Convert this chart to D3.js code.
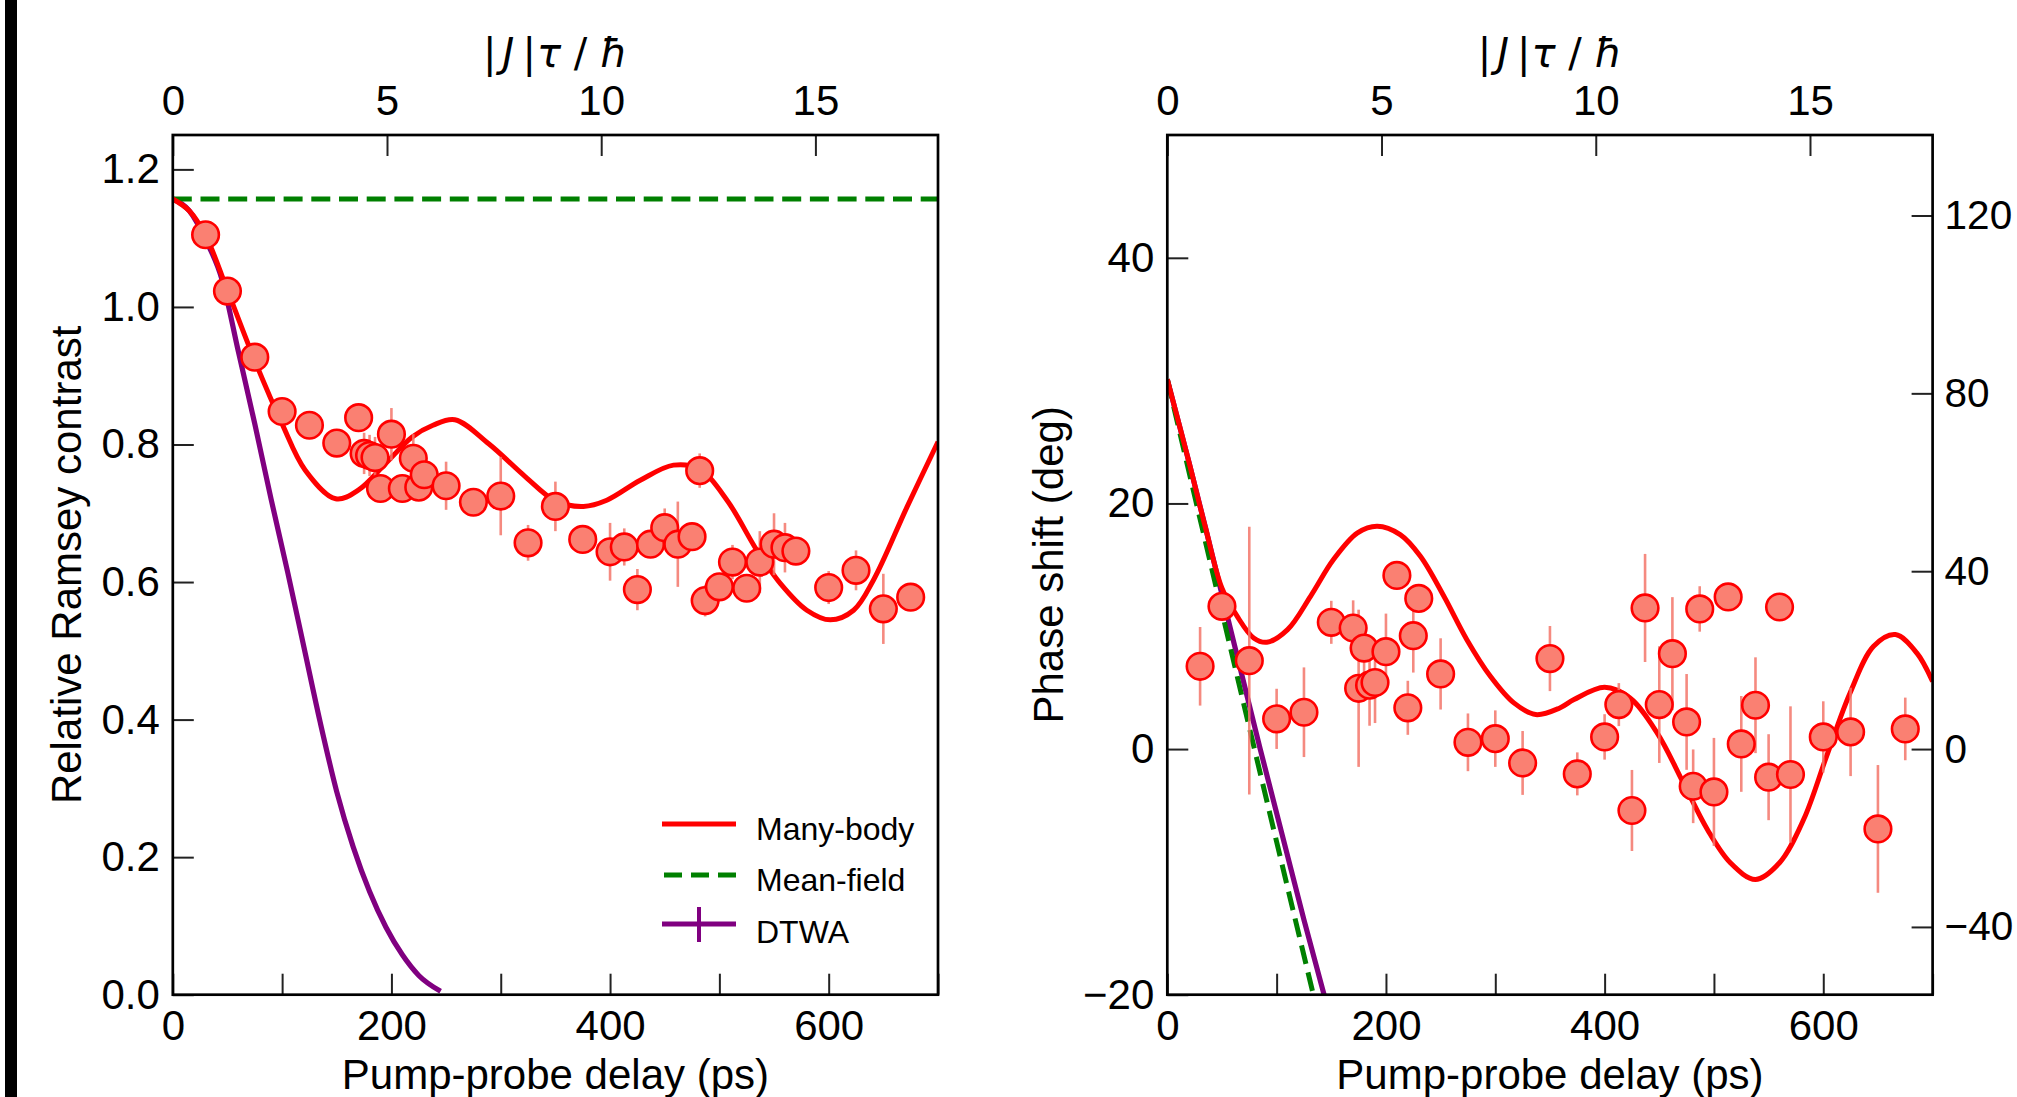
<!DOCTYPE html>
<html>
<head>
<meta charset="utf-8">
<script src="https://cdn.jsdelivr.net/npm/d3@7"></script>
<style>
  html, body { margin: 0; padding: 0; background: #fff; }
  svg { display: block; }
  text { font-family: "Liberation Sans", Arial, sans-serif; fill: #000; }
</style>
</head>
<body>
<svg id="chart" width="2017" height="1097"></svg>
<script>
// ---------------- DATA ----------------
// Left panel: relative Ramsey contrast
const leftDelay    = [30,50,75,100,125,150,170,175,180,185,200,190,210,225,220,230,250,275,300,325,350,375,400,413,425,437,450,462,475,482,487,500,512,525,537,550,560,570,600,625,650,675];
const leftContrast = [1.105,1.023,0.927,0.848,0.828,0.802,0.839,0.787,0.784,0.781,0.815,0.736,0.736,0.738,0.780,0.756,0.740,0.716,0.725,0.657,0.710,0.662,0.644,0.651,0.589,0.655,0.679,0.655,0.666,0.762,0.573,0.593,0.629,0.591,0.629,0.655,0.650,0.645,0.592,0.617,0.561,0.578];
const leftErr      = [0.01,0.01,0.01,0.009,0.01,0.01,0.008,0.03,0.03,0.03,0.038,0.02,0.02,0.02,0.035,0.02,0.035,0.015,0.057,0.026,0.036,0.015,0.042,0.027,0.030,0.02,0.028,0.062,0.015,0.025,0.023,0.02,0.025,0.02,0.045,0.045,0.036,0.015,0.024,0.029,0.051,0.015];

const leftMBDelay    = [0,15,30,50,75,100,121,149,170,194.5,219,238,258,289,322.6,350,375.7,397,427.6,458,481.8,507,534.4,555.7,580,601.5,622.8,641,671.6,700];
const leftMBContrast = [1.157,1.14,1.104,1.024,0.922,0.830,0.763,0.721,0.734,0.772,0.811,0.828,0.836,0.801,0.753,0.718,0.710,0.719,0.748,0.770,0.764,0.719,0.646,0.598,0.559,0.545,0.559,0.603,0.709,0.804];

const leftMFDelay    = [0,700];
const leftMFContrast = [1.157,1.157];

const leftDTWADelay    = [0,15,30,45,60,75,90,105,120,135,150,165,180,195,210,225,245];
const leftDTWAContrast = [1.157,1.14,1.098,1.04,0.935,0.83,0.72,0.615,0.505,0.395,0.295,0.215,0.15,0.098,0.058,0.028,0.005];

// Right panel: phase shift (deg)
const rightDelay = [30,50,75,100,125,150,170,175,180,185,190,200,210,220,225,230,250,275,300,325,350,375,400,413,425,437,450,462,475,481,487,500,513,525,538,550,560,570,600,625,650,675];
const rightPhase = [6.74,11.62,7.2,2.46,3.0,10.32,9.86,4.95,8.22,5.2,5.42,7.93,14.14,3.36,9.23,12.27,6.12,0.55,0.85,-1.13,7.37,-2.02,0.99,3.62,-5.0,11.49,3.62,7.77,2.21,-3.03,11.41,-3.49,12.39,0.42,3.57,-2.29,11.57,-2.07,0.99,1.40,-6.5,1.64];
const rightErr   = [3.2,1.0,10.9,2.45,3.65,1.75,2.25,6.4,2.0,3.3,3.3,3.1,1.0,2.2,3.0,1.0,2.9,2.35,2.3,2.6,2.65,1.75,1.85,1.75,3.3,4.4,4.75,4.6,3.9,3.0,1.85,4.4,1.0,3.9,3.9,3.5,1.0,5.55,2.9,3.6,5.2,2.55];

const rightMBDelay = [0,20,35,50,64,79,91,110,131,152,174,192,213,231.5,253,274,295.5,317,337,359,372,400,423,448,472,494,515,538,560,582,603,624.5,646,666,685.5,700];
const rightMBPhase = [30.1,23.3,18.0,13.1,10.8,9.05,8.7,9.73,12.44,15.43,17.6,18.14,17.46,15.7,12.44,8.91,5.93,3.76,2.81,3.35,4.03,5.03,4.17,1.32,-2.75,-6.55,-9.26,-10.62,-9.26,-5.74,-0.59,4.57,8.37,9.32,7.83,5.5];

const rightMFDelay = [0,82,133.6];
const rightMFPhase = [30.1,-0.85,-20];

const rightDTWADelay = [0,20,35,50,85,125,143.4];
const rightDTWAPhase = [30.1,23.3,18.0,12.6,0,-13.9,-20];

// Axis ticks
const delayTicks      = [0,100,200,300,400,500,600,700];
const jTicks          = [0,5,10,15];
const contrastTicks   = [0,0.2,0.4,0.6,0.8,1.0,1.2];
const phaseTicks      = [-20,0,20,40];
const phaseRightTicks = [-40,0,40,80,120];
const psPerJUnit      = 39.19;
const rightAxisFactor = 2.762;

const legendLabels = ["Many-body","Mean-field","DTWA"];

// ---------------- COLORS ----------------
const RED = "#ff0000", GREEN = "#008000", PURPLE = "#800080";
const MARK_FILL = "#fa8072", ERR = "#f4766a";

// ---------------- LAYOUT ----------------
const svg = d3.select("#chart");
const plotTop = 135, plotBottom = 994.7;
const panels = [
  { x0: 172.8, x1: 938 },
  { x0: 1167.3, x1: 1932.6 }
];

// left black bar at the image edge
svg.append("rect").attr("x", 5).attr("y", 0).attr("width", 12).attr("height", 1097).attr("fill", "#000");

function styleAxis(g, size) {
  g.select(".domain").remove();
  g.selectAll(".tick line").attr("stroke", "#222").attr("stroke-width", 2);
  g.selectAll(".tick text").attr("font-size", size).attr("fill", "#000")
    .attr("font-family", "'Liberation Sans', Arial, sans-serif");
}

function drawPanel(idx, cfg) {
  const P = panels[idx];
  const x = d3.scaleLinear().domain([0, 700]).range([P.x0, P.x1]);
  const y = d3.scaleLinear().domain(cfg.yDomain).range([plotBottom, plotTop]);
  const xTop = d3.scaleLinear().domain([0, 700 / psPerJUnit]).range([P.x0, P.x1]);

  const clipId = "clip" + idx;
  svg.append("clipPath").attr("id", clipId).append("rect")
    .attr("x", P.x0).attr("y", plotTop).attr("width", P.x1 - P.x0).attr("height", plotBottom - plotTop);

  const plot = svg.append("g").attr("clip-path", `url(#${clipId})`);

  const line = (curve) => d3.line().x(d => x(d[0])).y(d => y(d[1])).curve(curve);

  // DTWA (purple)
  plot.append("path").datum(d3.zip(cfg.dtwaX, cfg.dtwaY))
    .attr("d", line(d3.curveMonotoneX)).attr("fill", "none")
    .attr("stroke", PURPLE).attr("stroke-width", 5.2);
  // Mean-field (green dashed)
  plot.append("path").datum(d3.zip(cfg.mfX, cfg.mfY))
    .attr("d", line(d3.curveMonotoneX)).attr("fill", "none")
    .attr("stroke", GREEN).attr("stroke-width", 5).attr("stroke-dasharray", "19,8.7");
  // Many-body (red)
  plot.append("path").datum(d3.zip(cfg.mbX, cfg.mbY))
    .attr("d", line(d3.curveCatmullRom.alpha(0.5))).attr("fill", "none")
    .attr("stroke", RED).attr("stroke-width", 5);

  // error bars
  const pts = cfg.px.map((v, i) => ({ x: v, y: cfg.py[i], e: cfg.pe[i] }));
  plot.append("g").selectAll("line").data(pts).join("line")
    .attr("x1", d => x(d.x)).attr("x2", d => x(d.x))
    .attr("y1", d => y(d.y - d.e)).attr("y2", d => y(d.y + d.e))
    .attr("stroke", ERR).attr("stroke-width", 2.6).attr("opacity", 0.85);
  // markers
  plot.append("g").selectAll("circle").data(pts).join("circle")
    .attr("cx", d => x(d.x)).attr("cy", d => y(d.y)).attr("r", 13.3)
    .attr("fill", MARK_FILL).attr("stroke", RED).attr("stroke-width", 2.6);

  // axes
  const gB = svg.append("g").attr("transform", `translate(0,${plotBottom})`)
    .call(d3.axisBottom(x).tickValues(delayTicks).tickSize(-21).tickSizeOuter(0).tickPadding(15)
      .tickFormat(d => d % 200 === 0 && d < 700 ? String(d) : ""));
  styleAxis(gB, 42);

  const gT = svg.append("g").attr("transform", `translate(0,${plotTop})`)
    .call(d3.axisTop(xTop).tickValues(jTicks).tickSize(-21).tickSizeOuter(0).tickPadding(20)
      .tickFormat(d3.format("d")));
  styleAxis(gT, 42);

  const gL = svg.append("g").attr("transform", `translate(${P.x0},0)`)
    .call(d3.axisLeft(y).tickValues(cfg.yTicks).tickSize(-21).tickSizeOuter(0).tickPadding(13)
      .tickFormat(cfg.yFormat));
  styleAxis(gL, 42);

  if (cfg.rightAxis) {
    const y2 = d3.scaleLinear().domain(cfg.yDomain.map(v => v * rightAxisFactor)).range([plotBottom, plotTop]);
    const gR = svg.append("g").attr("transform", `translate(${P.x1},0)`)
      .call(d3.axisRight(y2).tickValues(phaseRightTicks).tickSize(-21).tickSizeOuter(0).tickPadding(12)
        .tickFormat(d3.format("d")));
    styleAxis(gR, 40.5);
  }

  // frame
  svg.append("rect").attr("x", P.x0).attr("y", plotTop)
    .attr("width", P.x1 - P.x0).attr("height", plotBottom - plotTop)
    .attr("fill", "none").attr("stroke", "#000").attr("stroke-width", 2.7);

  const cx = (P.x0 + P.x1) / 2;
  // x title
  svg.append("text").attr("x", cx).attr("y", 1089).attr("text-anchor", "middle")
    .attr("font-size", 42).text("Pump-probe delay (ps)");
  // top title  |J|τ / ħ
  const tt = svg.append("text").attr("x", cx).attr("y", 67).attr("text-anchor", "middle")
    .attr("font-size", 40).style("font-family", "'DejaVu Sans', sans-serif");
  tt.append("tspan").text("|");
  tt.append("tspan").attr("dx", 6).attr("font-style", "italic").text("J");
  tt.append("tspan").attr("dx", 8).text("|");
  tt.append("tspan").attr("dx", 1).attr("font-style", "italic").text("τ");
  tt.append("tspan").attr("dx", 0).text(" / ");
  tt.append("tspan").attr("font-style", "italic").text("ħ");
  // y title
  svg.append("text").attr("transform", `translate(${cfg.yTitleX},${(plotTop + plotBottom) / 2}) rotate(-90)`)
    .attr("text-anchor", "middle").attr("font-size", 42).text(cfg.yTitle);

  return { x, y };
}

drawPanel(0, {
  yDomain: [0, 1.25], yTicks: contrastTicks, yFormat: d3.format(".1f"),
  px: leftDelay, py: leftContrast, pe: leftErr,
  mbX: leftMBDelay, mbY: leftMBContrast,
  mfX: leftMFDelay, mfY: leftMFContrast,
  dtwaX: leftDTWADelay, dtwaY: leftDTWAContrast,
  yTitle: "Relative Ramsey contrast", yTitleX: 81, rightAxis: false
});

drawPanel(1, {
  yDomain: [-20, 50], yTicks: phaseTicks, yFormat: d3.format("d"),
  px: rightDelay, py: rightPhase, pe: rightErr,
  mbX: rightMBDelay, mbY: rightMBPhase,
  mfX: rightMFDelay, mfY: rightMFPhase,
  dtwaX: rightDTWADelay, dtwaY: rightDTWAPhase,
  yTitle: "Phase shift (deg)", yTitleX: 1063, rightAxis: true
});

// ---------------- LEGEND (left panel) ----------------
const legend = svg.append("g");
const legendStyles = [
  { color: RED, dash: null, cross: false, width: 5 },
  { color: GREEN, dash: "18,9", cross: false, width: 5 },
  { color: PURPLE, dash: null, cross: true, width: 5 }
];
const legendY = [824, 875, 924];
const legendBase = [840, 891, 943];
legendLabels.forEach((lab, i) => {
  const s = legendStyles[i];
  const ly = legendY[i];
  const l = legend.append("line").attr("x1", 662).attr("x2", 736).attr("y1", ly).attr("y2", ly)
    .attr("stroke", s.color).attr("stroke-width", s.width);
  if (s.dash) l.attr("x1", 664).attr("stroke-dasharray", s.dash);
  if (s.cross) legend.append("line").attr("x1", 699).attr("x2", 699).attr("y1", ly - 17).attr("y2", ly + 18)
    .attr("stroke", s.color).attr("stroke-width", 4);
  legend.append("text").attr("x", 756).attr("y", legendBase[i]).attr("font-size", 32).text(lab);
});
</script>
</body>
</html>
